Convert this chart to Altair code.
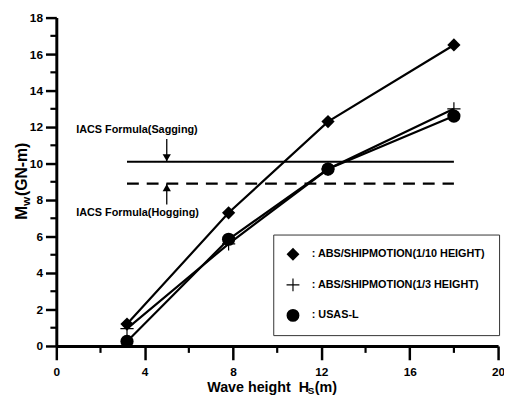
import altair as alt
import pandas as pd

# ---- data ----
hs = [3.2, 7.8, 12.3, 18.0]
abs_110 = [1.2, 7.3, 12.3, 16.5]
abs_13 = [0.95, 5.6, 9.7, 13.0]
usas = [0.25, 5.85, 9.7, 12.6]
series_names = [": ABS/SHIPMOTION(1/10 HEIGHT)", ": ABS/SHIPMOTION(1/3 HEIGHT)", ": USAS-L"]

ref_names = ["IACS Formula(Sagging)", "IACS Formula(Hogging)"]
ref_values = [10.1, 8.9]
ref_x_start = [3.2, 3.2]
ref_x_end = [18.0, 18.0]
ref_dash = ["solid", "dash"]
arrow_x = [5.0, 5.0]
arrow_from = [11.35, 7.75]
label_x = [0.9, 0.9]
label_y = [11.85, 7.3]

x_major = [0, 4, 8, 12, 16, 20]
x_minor = [2, 6, 10, 14, 18]
y_major = [0, 2, 4, 6, 8, 10, 12, 14, 16, 18]
y_minor = [1, 3, 5, 7, 9, 11, 13, 15, 17]

FONT = "Liberation Sans, Arial"
PLUS = "M-1,-0.09H-0.09V-1H0.09V-0.09H1V0.09H0.09V1H-0.09V0.09H-1Z"

rows = []
for name, vals in zip(series_names, [abs_110, abs_13, usas]):
    for x, y in zip(hs, vals):
        rows.append({"hs": x, "mw": y, "series": name})
df = pd.DataFrame(rows)

refs = pd.DataFrame({"name": ref_names, "y": ref_values, "x": ref_x_start,
                     "x2": ref_x_end, "dash": ref_dash, "ax": arrow_x,
                     "afrom": arrow_from, "lx": label_x, "ly": label_y})

xs = alt.Scale(domain=[0, 20], nice=False, zero=False)
ys = alt.Scale(domain=[0, 18], nice=False, zero=False)

x_axis = alt.Axis(values=x_major, orient="bottom", title=None, grid=False,
                  domainWidth=3, domainColor="black", tickColor="black",
                  tickWidth=2.5, tickSize=14, labelOverlap=False,
                  labelPadding=7, labelFont=FONT, labelFontSize=12,
                  labelFontWeight="bold", labelColor="black", labelFlush=False)
y_axis = alt.Axis(values=y_major, orient="left", title=None, grid=False,
                  domainWidth=3, domainColor="black", tickColor="black",
                  tickWidth=2.5, tickSize=11, labelOverlap=False,
                  labelPadding=3, labelFont=FONT, labelFontSize=12,
                  labelFontWeight="bold", labelColor="black", labelFlush=False)


def X(field):
    return alt.X(field, scale=xs, axis=x_axis, title=None)


def Y(field):
    return alt.Y(field, scale=ys, axis=y_axis, title=None)


lines = alt.Chart(df).mark_line(color="black", strokeWidth=2.2).encode(
    x=X("hs:Q"),
    y=Y("mw:Q"),
    detail="series:N",
)

# minor ticks (positioned through the axis scales)
y_minor_ticks = alt.Chart(pd.DataFrame({"v": y_minor})).mark_rule(
    color="black", strokeWidth=2.2).encode(
    y=Y("v:Q"), x=alt.value(-6), x2=alt.value(0))
x_minor_ticks = alt.Chart(pd.DataFrame({"v": x_minor})).mark_rule(
    color="black", strokeWidth=2.2).encode(
    x=X("v:Q"), y=alt.value(333), y2=alt.value(340))

points = alt.Chart(df).mark_point(filled=True, color="black", opacity=1, size=180).encode(
    x=X("hs:Q"),
    y=Y("mw:Q"),
    shape=alt.Shape("series:N",
                    scale=alt.Scale(domain=series_names,
                                    range=["diamond", PLUS, "circle"]),
                    legend=alt.Legend(title=None, orient="none", legendX=220, legendY=220,
                                      strokeColor="#333", fillColor="white",
                                      padding=13, rowPadding=17,
                                      labelFont=FONT, labelFontSize=11, labelLimit=300,
                                      labelFontWeight="bold", labelColor="black",
                                      labelOffset=12, symbolSize=170,
                                      symbolFillColor="black", symbolStrokeColor="black",
                                      symbolStrokeWidth=0)),
)

ref_lines = alt.Chart(refs).mark_rule(color="black", strokeWidth=2.2).encode(
    x=X("x:Q"),
    x2="x2:Q",
    y=Y("y:Q"),
    strokeDash=alt.StrokeDash("dash:N",
                              scale=alt.Scale(domain=["solid", "dash"], range=[[1, 0], [12, 8]]),
                              legend=None),
)

arrow_stems = alt.Chart(refs).mark_rule(color="black", strokeWidth=1.3).encode(
    x=X("ax:Q"),
    y=Y("afrom:Q"),
    y2="y:Q",
)

head_down = alt.Chart(refs.iloc[[0]]).mark_point(
    filled=True, color="black", size=70, opacity=1, shape="triangle-down", yOffset=-4
).encode(x=X("ax:Q"), y=Y("y:Q"))
head_up = alt.Chart(refs.iloc[[1]]).mark_point(
    filled=True, color="black", size=70, opacity=1, shape="triangle-up", yOffset=4
).encode(x=X("ax:Q"), y=Y("y:Q"))

ref_text = alt.Chart(refs).mark_text(align="left", baseline="middle", font=FONT,
                                     fontSize=11, fontWeight="bold", color="black").encode(
    x=X("lx:Q"),
    y=Y("ly:Q"),
    text="name:N",
)


def label(text, x, y, size, angle=0):
    kw = dict(align="left", baseline="alphabetic", font=FONT, fontSize=size,
              fontWeight="bold", color="black")
    if angle:
        kw["angle"] = angle
    return alt.Chart(pd.DataFrame({"t": [text]})).mark_text(**kw).encode(
        text="t:N", x=alt.value(x), y=alt.value(y))


x_title = label("Wave height\u00a0\u00a0H", 153, 380, 14.5)
x_sub = label("S", 255, 382, 10)
x_tail = label("(m)", 262, 380, 14.5)
y_m = label("M", -30, 205, 17, 270)
y_w = label("W", -27, 191, 10, 270)
y_tail = label("(GN-m)", -30, 181, 16, 270)

chart = alt.layer(
    lines, y_minor_ticks, x_minor_ticks, ref_lines, arrow_stems, head_down, head_up,
    ref_text, points, x_title, x_sub, x_tail, y_m, y_w, y_tail,
).properties(
    width=448, height=333,
    autosize=alt.AutoSizeParams(type="none"),
    padding={"left": 49, "top": 7, "right": 6, "bottom": 48},
).configure_view(stroke=None)

chart.save("out.html", embed_options={"renderer": "svg", "actions": False})
